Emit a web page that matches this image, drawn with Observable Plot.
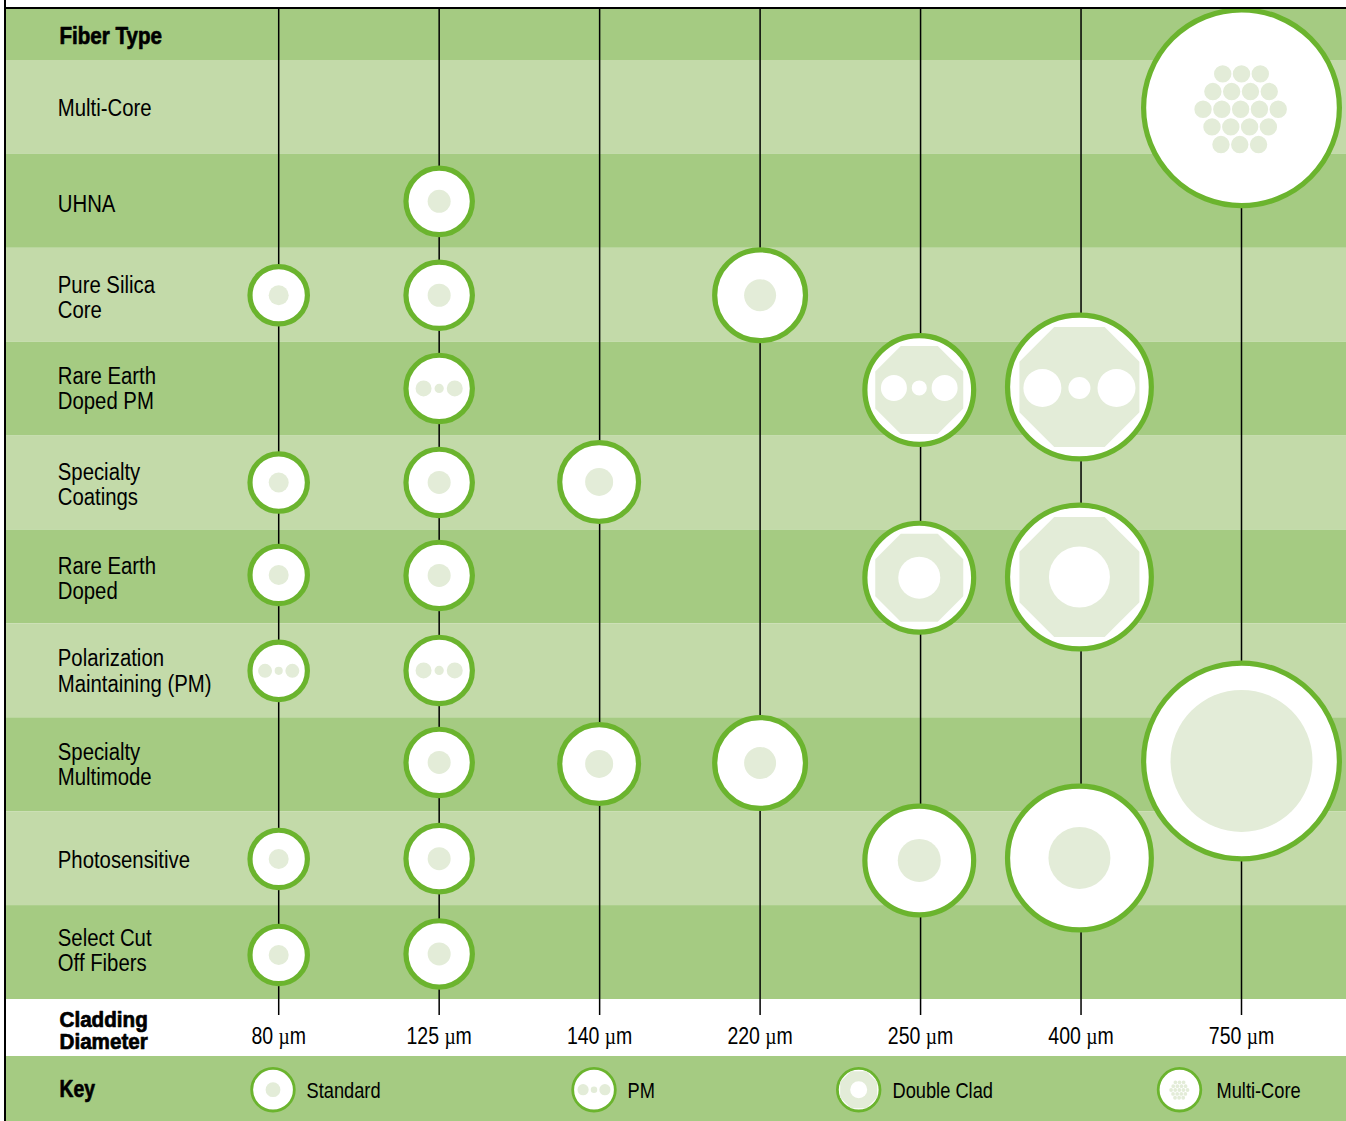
<!DOCTYPE html>
<html>
<head>
<meta charset="utf-8">
<script src="https://cdn.jsdelivr.net/npm/d3@7"></script>
<script src="https://cdn.jsdelivr.net/npm/@observablehq/plot@0.6"></script>
<style>
  html, body { margin: 0; padding: 0; background: #fff; }
  svg { display: block; }
  #chart { width: 1346px; }
</style>
</head>
<body>
<div id="chart"></div>
<script>
// ---- data ----
const fiberTypes = ["Multi-Core", "UHNA", "Pure Silica\nCore", "Rare Earth\nDoped PM", "Specialty\nCoatings",
  "Rare Earth\nDoped", "Polarization\nMaintaining (PM)", "Specialty\nMultimode", "Photosensitive", "Select Cut\nOff Fibers"];
const diameters = [80, 125, 140, 220, 250, 400, 750];
const keyNames = ["Standard", "PM", "Double Clad", "Multi-Core"];

const multiCoreSizes = [750];
const uhnaSizes = [125];
const pureSilicaSizes = [80, 125, 220];
const rareEarthPmSizes = [125, 250, 400];
const coatingSizes = [80, 125, 140];
const rareEarthSizes = [80, 125, 250, 400];
const pmSizes = [80, 125];
const multimodeSizes = [125, 140, 220, 750];
const photosensitiveSizes = [80, 125, 250, 400];
const cutOffSizes = [80, 125];

// ---- table built from the lists ----
const sizeLists = [multiCoreSizes, uhnaSizes, pureSilicaSizes, rareEarthPmSizes, coatingSizes,
  rareEarthSizes, pmSizes, multimodeSizes, photosensitiveSizes, cutOffSizes];
function designOf(type, size) {
  if (type === "Multi-Core") return "Multi-Core";
  if (type === "Rare Earth\nDoped PM") return size >= 250 ? "Double Clad PM" : "PM";
  if (type === "Polarization\nMaintaining (PM)") return "PM";
  if (type === "Rare Earth\nDoped") return size >= 250 ? "Double Clad" : "Standard";
  return "Standard";
}
const cells = fiberTypes.flatMap((type, i) =>
  sizeLists[i].map(size => ({type, size, row: i, design: designOf(type, size)})));

// ---- styling constants ----
const FONT = "'Liberation Sans',sans-serif";
const TEXT_SIZE = 24.5;
const DARK = "#a5cb82", LIGHT = "#c3daa9", RING = "#6bb42e", CORE = "#e3ecd8";
const ringR = {80: 28.7, 125: 33.2, 140: 39.4, 220: 45.4, 250: 54.4, 400: 71.9, 750: 97.9};
const coreR = {80: 10, 125: 11.5, 140: 14, 220: 16, 250: 21.5, 400: 31, 750: 71};
const pmR = {80: 7, 125: 8, 250: 13, 400: 19};
const octR = {250: 44, 400: 60};
const cladCoreR = {250: 21, 400: 30.5};
const latticeR = 8.7;
// hand placement of the drawing, in pixels
const sizeDx = {140: -0.5, 250: -1.3, 400: -1.6};
const cellDy = [{750: 0.3}, {}, {}, {125: -0.7, 250: 0.8, 400: -2.2}, {80: -0.5, 125: -0.6, 140: -1.1},
  {80: -2, 125: -1.5, 250: 0.7}, {125: -0.4}, {125: -2.3, 140: -0.8, 220: -1.8, 750: -3.8},
  {80: 0.3, 250: 1.8, 400: -0.7}, {80: 2.4, 125: 1.4}];
const cladTrioDy = {250: -2, 400: 1};
const labelDy = [0, 3, 2, -1, 1, 1.5, 0, 0, 1, -2];
const keyCenter = {"Standard": 273, "PM": 594, "Double Clad": 858.7, "Multi-Core": 1179.5};
const keyLabel = {"Standard": 306, "PM": 627, "Double Clad": 892, "Multi-Core": 1216};

// ---- custom symbols ----
const dotAt = (c, x, y, r) => { c.moveTo(x + r, y); c.arc(x, y, r, 0, 2 * Math.PI); };
const radius = size => Math.sqrt(size / Math.PI);
const octagon = {draw(c, size) {
  const R = radius(size), f = R * 0.42;
  c.moveTo(-f, -R); c.lineTo(f, -R); c.lineTo(R, -f); c.lineTo(R, f);
  c.lineTo(f, R); c.lineTo(-f, R); c.lineTo(-R, f); c.lineTo(-R, -f); c.closePath();
}};
const trio = {draw(c, size) {
  const R = radius(size);
  dotAt(c, -1.95 * R, 0, R); dotAt(c, 0, 0, 0.58 * R); dotAt(c, 1.95 * R, 0, R);
}};
const lattice = {draw(c, size) {
  const R = radius(size);
  for (let j = -2; j <= 2; j++) {
    const n = 5 - Math.abs(j);
    for (let i = 0; i < n; i++)
      dotAt(c, (i - (n - 1) / 2) * 2.16 * R - j * 0.05 * R - 0.1 * R, (j * 2.03 + 0.17) * R, R);
  }
}};

// ---- marks shared by the chart and the key ----
function fiberMarks(data, pos, rad, strokeWidth, trioDy = () => 0) {
  const only = (...ds) => data.filter(d => ds.includes(d.design));
  return [
    Plot.dot(data, {...pos, r: rad.ring, fill: "#fff", stroke: RING, strokeWidth}),
    Plot.dot(only("Standard"), {...pos, r: rad.core, fill: CORE}),
    Plot.dot(only("PM"), {...pos, r: rad.pm, fill: CORE, symbol: trio}),
    Plot.dot(only("Double Clad", "Double Clad PM"), {...pos, r: rad.oct, fill: CORE, symbol: octagon}),
    Plot.dot(only("Double Clad"), {...pos, r: rad.cladCore, fill: "#fff"}),
    ...only("Double Clad PM").map(d => Plot.dot([d],
      {...pos, dy: (pos.dy || 0) + trioDy(d), r: rad.cladPm, fill: "#fff", symbol: trio})),
    Plot.dot(only("Multi-Core"), {...pos, r: rad.lattice, fill: CORE, symbol: lattice})
  ];
}
const chartBackground =
  "linear-gradient(to right, #fff 4px, #000 4px, #000 6px, transparent 6px)," +
  `linear-gradient(to bottom, #fff 7px, #000 7px, #000 9px, ${DARK} 9px, ${DARK} 60px, #fff 60px)`;

const cellRadii = {
  ring: d => ringR[d.size], core: d => coreR[d.size], pm: d => pmR[d.size],
  oct: d => octR[d.size], cladCore: d => cladCoreR[d.size], cladPm: d => pmR[d.size],
  lattice: () => latticeR
};
const offsetOf = d => [sizeDx[d.size] || 0, cellDy[d.row][d.size] || 0];
const cellGroups = d3.groups(cells, d => offsetOf(d).join(","));
const bold = {fontWeight: "bold", stroke: "#000", strokeWidth: 0.7, fill: "#000", textAnchor: "start", lineAnchor: "middle"};

// ---- main chart ----
const chart = Plot.plot({
  width: 1346, height: 1056,
  marginTop: 60, marginBottom: 57, marginLeft: 6, marginRight: 0,
  style: {fontFamily: FONT, fontSize: TEXT_SIZE + "px", color: "#000", background: chartBackground, overflow: "visible"},
  x: {type: "point", domain: diameters, range: [278.2, 1241], padding: 0, round: false, axis: null},
  y: {type: "band", domain: fiberTypes, range: [60, 999], padding: 0, round: false, axis: null},
  r: {type: "identity"},
  marks: [
    Plot.cell(fiberTypes, {y: d => d, fill: (d, i) => i % 2 ? DARK : LIGHT}),
    Plot.ruleX(diameters, {x: d => d, stroke: "#000", strokeWidth: 1.5, insetTop: -52, insetBottom: -16}),
    Plot.axisX({anchor: "bottom", tickSize: 0, tickPadding: 28, label: null, fontSize: 23.5,
      tickFormat: d => d + " µm", lineHeight: 1}),
    ...cellGroups.flatMap(([, group]) => {
      const [dx, dy] = offsetOf(group[0]);
      return fiberMarks(group, {x: "size", y: "type", dx, dy}, cellRadii, 5.2, d => cladTrioDy[d.size]);
    }),
    Plot.frame({anchor: "top", stroke: "#000", strokeWidth: 2, insetTop: -52.5}),
    ...fiberTypes.map((type, i) => Plot.text([type], {y: d => d, text: d => d, frameAnchor: "left", dx: 51.3, dy: labelDy[i],
      textAnchor: "start", lineAnchor: "middle", lineHeight: 1.03, fill: "#000"})),
    Plot.text(["Fiber Type"], {...bold, text: d => d, frameAnchor: "top-left", dx: 53, dy: -24}),
    Plot.text(["Cladding\nDiameter"], {...bold, text: d => d, frameAnchor: "bottom-left", dx: 53, dy: 31,
      fontSize: 21.5, lineHeight: 1.03})
  ]
});

// ---- key strip below the chart ----
const keyStyle = {
  ring: () => 21.3, core: () => 7.4, pm: () => 5.6, oct: () => 18.5, cladCore: () => 8.5,
  cladPm: () => 5, lattice: () => 1.9
};
const key = Plot.plot({
  width: 1346, height: 65,
  margin: 0,
  style: {fontFamily: FONT, fontSize: TEXT_SIZE + "px", color: "#000",
    background: `linear-gradient(to right, #fff 4px, #000 4px, #000 6px, ${DARK} 6px)`},
  r: {type: "identity"},
  marks: [
    ...keyNames.flatMap(name => fiberMarks([{name, design: name}],
      {frameAnchor: "left", dx: keyCenter[name] - 0.5, dy: 0.7}, keyStyle, 2.8)),
    ...keyNames.map(name => Plot.text([name], {text: d => d, frameAnchor: "left", dx: keyLabel[name], dy: 2, fontSize: 22,
      textAnchor: "start", lineAnchor: "middle", fill: "#000"})),
    Plot.text(["Key"], {...bold, text: d => d, frameAnchor: "left", dx: 59})
  ]
});
const host = document.getElementById("chart");
host.append(chart, key);

// The reference uses a condensed grotesque: narrow each text along x, and set the micro sign in a serif.
const boldWidth = {"Fiber Type": 0.84, "Key": 0.79};
host.querySelectorAll("svg text").forEach(t => {
  const isBold = t.closest("[font-weight]") || t.getAttribute("font-weight");
  const content = t.textContent;
  const sx = isBold ? (boldWidth[content] || 0.96) : 0.83;
  const current = t.getAttribute("transform") || "";
  t.setAttribute("transform", `${current} scale(${sx},1)`);
  const m = /^(.*) µm$/.exec(content);
  if (m) {
    t.textContent = m[1] + " ";
    const mu = document.createElementNS("http://www.w3.org/2000/svg", "tspan");
    mu.setAttribute("font-family", "'Liberation Serif',serif");
    mu.textContent = "µ";
    const unit = document.createElementNS("http://www.w3.org/2000/svg", "tspan");
    unit.textContent = "m";
    t.append(mu, unit);
  }
});
</script>
</body>
</html>
